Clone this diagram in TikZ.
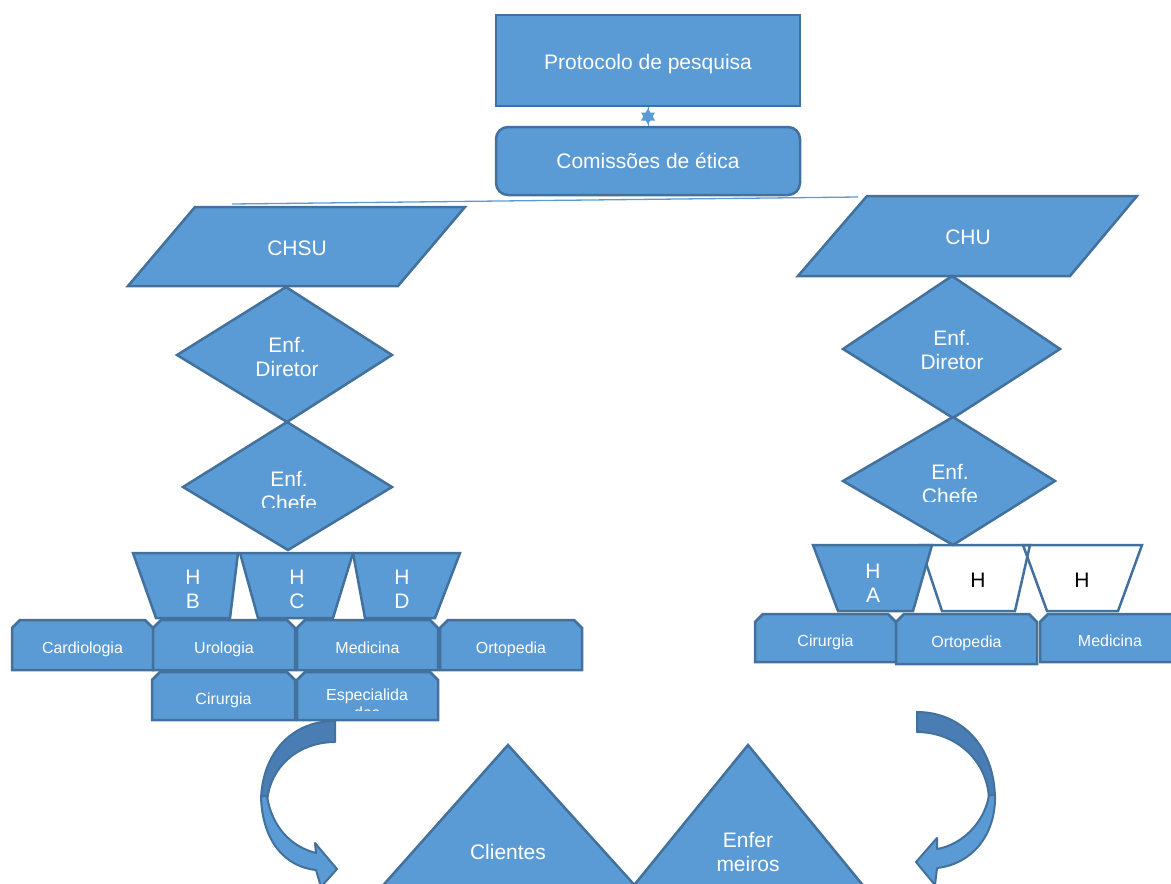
\documentclass[tikz,border=0pt]{standalone}
\usepackage{fontspec}
\setmainfont{Liberation Sans}

\definecolor{boxfill}{HTML}{5B9BD5}
\definecolor{boxline}{HTML}{41719C}
\definecolor{bandback}{HTML}{4A7DB4}

\tikzset{
  shapeline/.style={draw=boxline, fill=boxfill, line width=2.5pt, line join=miter},
  hollowline/.style={draw=boxline, fill=none, line width=2.5pt},
  lbl/.style={text=white, align=center, inner sep=0pt,
    font=\fontsize{21}{24}\selectfont},
  oneline/.style={lbl, text height=15pt, text depth=0pt},
  lbldark/.style={oneline, text=black},
  lblsmall/.style={text=white, align=center, inner sep=0pt,
    font=\fontsize{16}{18}\selectfont},
  onesmall/.style={lblsmall, text height=11.5pt, text depth=0pt},
  band/.style={draw=boxline, line width=2pt, line join=round},
  starlink/.style={draw=boxfill, line width=1pt},
  startip/.style={fill=boxfill},
  spanline/.style={draw=boxfill, line width=1.3pt}
}

% box with its two upper corners cut off: name, x1, y1, x2, y2, text
\newcommand\snipbox[6]{%
  \draw[shapeline] (#2+8,#3) -- (#4-8,#3) -- (#4,#3+8) -- (#4,#5)
    -- (#2,#5) -- (#2,#3+8) -- cycle;
  \node[onesmall] (#1) at ({(#2+#4)/2},{(#3+#5)/2+3}) {#6};
}

\begin{document}
\begin{tikzpicture}[x=1pt,y=-1pt]
\useasboundingbox (0,0) rectangle (1171,884);
\clip (0,0) rectangle (1171,884);

% ---------- top: protocol and ethics committees ----------
\node[shapeline, minimum width=304pt, minimum height=91pt]
  (prot) at (648,60.5) {};
\node[oneline] (protT) at (648,61.5) {Protocolo de pesquisa};
\node[shapeline, oneline, rounded corners=12pt, minimum width=304pt, minimum height=68pt]
  (com) at (648,161) {Comissões de ética};
% short two-way link drawn as a small six-pointed star
\draw[starlink] (prot.south) -- (com.north) coordinate[pos=0.5] (starC);
\fill[startip, shift={(starC)}] (0,-8) -- (7,4) -- (-7,4) -- cycle;
\fill[startip, shift={(starC)}] (0,8) -- (7,-4) -- (-7,-4) -- cycle;

\coordinate (spanL) at (232,204);
\coordinate (spanR) at (858,197);
\draw[spanline] (spanL) -- (spanR);

% ---------- left branch: CHSU ----------
\draw[shapeline] (195,207) -- (465,207) -- (398,286) -- (128,286) -- cycle;
\node[oneline] (chsu) at (297,248) {CHSU};

\draw[shapeline] (286,287) -- (392,355) -- (287,422) -- (177,355) -- cycle;
\node[lbl] (ldir) at (287,357) {Enf.\\Diretor};
\draw[shapeline] (287,422) -- (392,487) -- (288,550) -- (183,487) -- cycle;
\begin{scope}
  \clip (183,440) rectangle (392,507);
  \node[lbl] (lchefe) at (289,491) {Enf.\\Chefe};
\end{scope}

\draw[shapeline] (133,553) -- (238,553) -- (230,618) -- (156,618) -- cycle;
\node[lbl] (hb) at (193,589) {H\\B};
\draw[shapeline] (240,553) -- (353,553) -- (333,618) -- (258,618) -- cycle;
\node[lbl] (hc) at (297,589) {H\\C};
\draw[shapeline] (353,553) -- (460,553) -- (435,618) -- (365,618) -- cycle;
\node[lbl] (hd) at (402,589) {H\\D};

\snipbox{lcardio}{12}{620}{153}{670}{Cardiologia}
\snipbox{luro}{153}{620}{295}{670}{Urologia}
\snipbox{lmed}{297}{620}{438}{670}{Medicina}
\snipbox{lorto}{440}{620}{582}{670}{Ortopedia}
\snipbox{lcir}{152}{672}{295}{720}{Cirurgia}
\draw[shapeline] (305,672) -- (430,672) -- (438,680) -- (438,720)
  -- (297,720) -- (297,680) -- cycle;
\begin{scope}
  \clip (297,672) rectangle (438,710);
  \node[lblsmall] (lesp) at (367,704) {Especialida\\des};
\end{scope}

% ---------- right branch: CHU ----------
\draw[shapeline] (867,196) -- (1137,196) -- (1070,276) -- (798,276) -- cycle;
\node[oneline] (chu) at (968,237) {CHU};

\draw[shapeline] (952,276) -- (1060,349) -- (953,418) -- (843,349) -- cycle;
\node[lbl] (rdir) at (952,350) {Enf.\\Diretor};
\draw[shapeline] (953,417) -- (1055,481) -- (953,545) -- (843,481) -- cycle;
\begin{scope}
  \clip (843,440) rectangle (1055,501);
  \node[lbl] (rchefe) at (950,484) {Enf.\\Chefe};
\end{scope}

\draw[hollowline] (920,545) -- (1030,545) -- (1015,611) -- (942,611) -- cycle;
\node[lbldark] (h2) at (978,580) {H};
\draw[hollowline] (1023,545) -- (1142,545) -- (1118,611) -- (1047,611) -- cycle;
\node[lbldark] (h3) at (1082,580) {H};
\draw[shapeline] (813,545) -- (932,545) -- (913,611) -- (838,611) -- cycle;
\node[lbl] (ha) at (873,583) {H\\A};

\snipbox{rcir}{755}{614}{896}{662}{Cirurgia}
\snipbox{rorto}{896}{614}{1037}{664}{Ortopedia}
\snipbox{rmed}{1040}{614}{1180}{662}{Medicina}

% ---------- curved arrows ----------
\draw[band, fill=bandback] (335,721) -- (335,742)
  .. controls (300,742) and (270,765) .. (267,802)
  -- (261,800)
  .. controls (262,755) and (290,721) .. (335,721) -- cycle;
\draw[band, fill=boxfill] (261,796)
  .. controls (262,842) and (286,867) .. (316,870)
  -- (321,887) -- (337,869) -- (315,843) -- (316,853)
  .. controls (292,847) and (272,828) .. (267,796) -- cycle;

\draw[band, fill=bandback] (917,712)
  .. controls (960,712) and (995,745) .. (995,800)
  -- (989,800)
  .. controls (988,760) and (955,732) .. (917,732) -- cycle;
\draw[band, fill=boxfill] (995,795)
  .. controls (996,835) and (972,864) .. (937,868)
  -- (935,885) -- (916,862) -- (937,838) -- (937,849)
  .. controls (962,845) and (985,822) .. (989,795) -- cycle;

% ---------- bottom triangles ----------
\draw[shapeline] (508,745) -- (648,900) -- (370,900) -- cycle;
\node[oneline] (cli) at (508,852) {Clientes};
\draw[shapeline] (748,745) -- (875,900) -- (622,900) -- cycle;
\node[lbl] (enf) at (748,852) {Enfer\\meiros};
\end{tikzpicture}
\end{document}
